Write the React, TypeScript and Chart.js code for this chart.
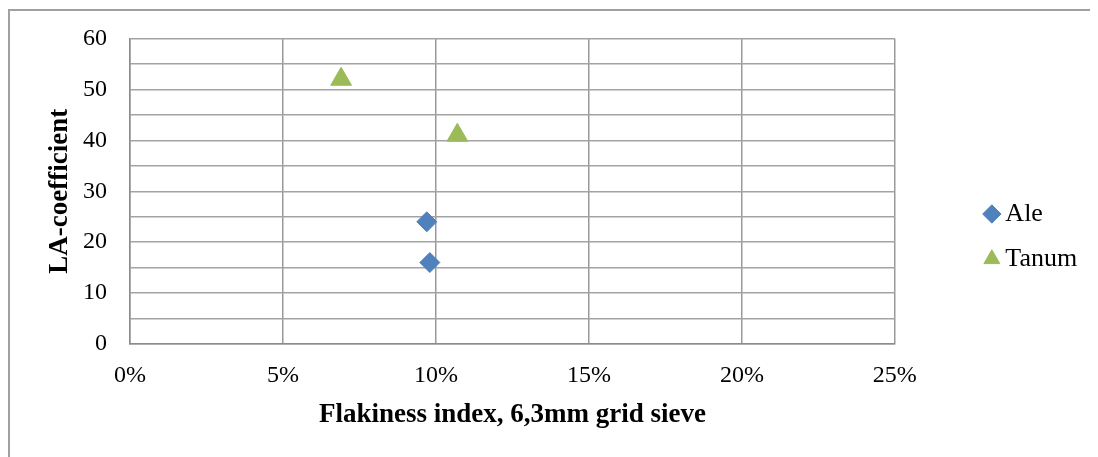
import { useEffect, useRef } from 'react';
import { Chart, registerables } from 'chart.js';

Chart.register(...registerables);

const seriesNames = ['Ale', 'Tanum'];
const aleFlakiness = [0.097, 0.098];
const aleLA = [24, 16];
const tanumFlakiness = [0.069, 0.107];
const tanumLA = [52, 41];
const xTitle = 'Flakiness index, 6,3mm grid sieve';
const yTitle = 'LA-coefficient';

const FONT = "'Times New Roman', 'Liberation Serif', serif";

export default function App() {
  const ref = useRef<HTMLCanvasElement>(null);

  useEffect(() => {
    const chart = new Chart(ref.current!, {
      type: 'scatter',
      data: {
        datasets: [
          {
            label: seriesNames[0],
            data: aleFlakiness.map((x, i) => ({ x, y: aleLA[i] })),
            pointStyle: 'rectRot',
            pointRadius: 10,
            pointHoverRadius: 10,
            backgroundColor: '#4F81BD',
            borderColor: '#4F81BD',
            borderWidth: 1,
          },
          {
            label: seriesNames[1],
            data: tanumFlakiness.map((x, i) => ({ x, y: tanumLA[i] })),
            pointStyle: 'triangle',
            pointRadius: 12,
            pointHoverRadius: 12,
            backgroundColor: '#9BBB59',
            borderColor: '#9BBB59',
            borderWidth: 1,
          },
        ],
      },
      options: {
        responsive: false,
        animation: false,
        layout: { padding: { top: 30.5, left: 0, right: 10.8, bottom: 22.5 } },
        plugins: {
          tooltip: { enabled: false },
          legend: {
            position: 'right',
            labels: {
              usePointStyle: true,
              boxWidth: 1,
              boxHeight: 13,
              padding: 19,
              color: '#000',
              font: { family: FONT, size: 26 },
            },
          },
        },
        scales: {
          x: {
            type: 'linear',
            min: 0,
            max: 0.25,
            afterFit: (s: any) => {
              s.height = 90.5;
              s.paddingLeft = 0;
              s.paddingRight = 0;
            },
            ticks: {
              stepSize: 0.05,
              padding: 17.7,
              autoSkip: false,
              color: '#000',
              font: { family: FONT, size: 24 },
              callback: (v: any) => Math.round(Number(v) * 100) + '%',
            },
            grid: { color: '#999', lineWidth: 1.5, drawTicks: false },
            border: { display: true, color: '#8c8c8c', width: 1.5 },
            title: {
              display: true,
              text: xTitle,
              color: '#000',
              font: { family: FONT, size: 27, weight: 'bold' },
              padding: { top: 0, bottom: 3.4 },
            },
          },
          y: {
            type: 'linear',
            min: 0,
            max: 60,
            afterFit: (s: any) => {
              s.width = 122;
              s.paddingTop = 0;
              s.paddingBottom = 0;
            },
            ticks: {
              stepSize: 5,
              padding: 23,
              autoSkip: false,
              color: '#000',
              font: { family: FONT, size: 24 },
              callback: (v: any) => (Number(v) % 10 === 0 ? String(v) : ''),
            },
            grid: {
              drawTicks: false,
              lineWidth: 1.5,
              color: '#a3a3a3',
            },
            border: { display: true, color: '#8c8c8c', width: 1.5 },
            title: {
              display: true,
              text: yTitle,
              color: '#000',
              font: { family: FONT, size: 27, weight: 'bold' },
              padding: { top: 35.8, bottom: 0 },
            },
          },
          gap: {
            type: 'linear',
            position: 'right',
            display: true,
            afterFit: (s: any) => {
              s.width = 77.5;
              s.paddingTop = 0;
              s.paddingBottom = 0;
            },
            ticks: { display: false },
            grid: { display: false },
            border: { display: false },
          },
        },
      } as any,
    });
    return () => chart.destroy();
  }, []);

  return (
    <div style={{ position: 'relative', width: 1090, height: 449, overflow: 'hidden' }}>
      <canvas
        ref={ref}
        width={1090}
        height={449}
        style={{ position: 'absolute', left: 0, top: 0, width: 1090, height: 449 }}
      />
      <div
        style={{
          position: 'absolute',
          left: 0,
          top: 0.5,
          width: 1200,
          height: 600,
          borderLeft: '2px solid #a0a0a0',
          borderTop: '2px solid #a0a0a0',
          pointerEvents: 'none',
        }}
      />
    </div>
  );
}
